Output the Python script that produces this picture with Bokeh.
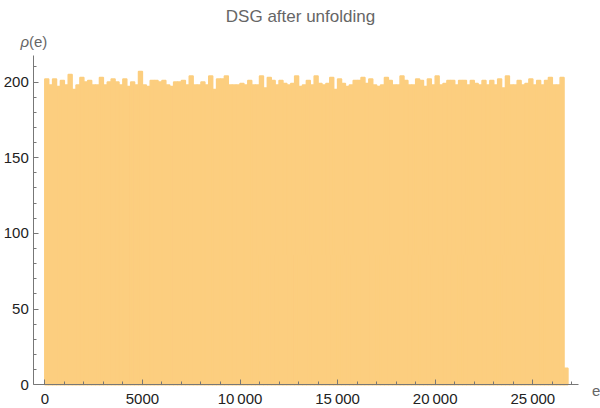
from bokeh.plotting import figure
from bokeh.models import FixedTicker, Label, Range1d
from bokeh.embed import file_html
from bokeh.resources import INLINE

# ---------------- data ----------------
title_text = "DSG after unfolding"
x_label_text = "e"
y_label_symbol = "ρ"
y_label_rest = "(e)"

bin_start = 0
bin_width = 200
counts = [
    202, 198, 202, 197, 201, 198, 205, 195, 198, 203,
    200, 201, 198, 198, 203, 198, 200, 202, 200, 198,
    202, 197, 200, 198, 207, 198, 197, 201, 201, 200,
    201, 198, 197, 200, 200, 201, 198, 204, 198, 198,
    200, 198, 204, 195, 202, 202, 204, 198, 198, 198,
    199, 198, 201, 198, 198, 204, 196, 203, 201, 198,
    201, 199, 198, 199, 204, 197, 198, 201, 198, 204,
    199, 198, 199, 203, 195, 202, 199, 197, 198, 201,
    201, 203, 199, 202, 198, 197, 198, 203, 201, 198,
    198, 204, 201, 198, 198, 202, 201, 197, 202, 198,
    204, 198, 199, 201, 201, 198, 201, 201, 198, 201,
    199, 198, 201, 198, 201, 198, 202, 196, 204, 198,
    198, 201, 198, 199, 202, 198, 201, 198, 201, 203,
    198, 198, 203, 11,
]

x_major_ticks = [0, 5000, 10000, 15000, 20000, 25000]
x_tick_labels = ["0", "5000", "10\u2009000", "15\u2009000", "20\u2009000", "25\u2009000"]
x_minor_ticks = list(range(1000, 28000, 1000))
y_major_ticks = [0, 50, 100, 150, 200]
y_tick_labels = ["0", "50", "100", "150", "200"]
y_minor_ticks = list(range(10, 220, 10))

# axis extents (data units)
x_axis_bounds = (-563.5, 27326.0)
y_axis_bounds = (0.0, 217.5)

# ---------------- layout ----------------
W, H = 600, 408
# pixel mapping of the plotting area (frame covers the whole canvas)
x0_px, x_px_per_unit = 44.3, 0.01952
y0_px, y_px_per_unit = 384.3, 1.514
x_start = -x0_px / x_px_per_unit
x_end = (W - x0_px) / x_px_per_unit
y_start = -(H - y0_px) / y_px_per_unit
y_end = y0_px / y_px_per_unit

bar_color = "#fcce7f"
axis_color = "#777777"
label_gray = "#666666"
tick_color = "#222222"
font = "Liberation Sans"

lefts = [bin_start + i * bin_width for i in range(len(counts))]
rights = [l + bin_width for l in lefts]

p = figure(width=W, height=H, output_backend="svg", toolbar_location=None,
           title=None,
           x_range=Range1d(x_start, x_end), y_range=Range1d(y_start, y_end),
           min_border_left=0, min_border_right=0,
           min_border_top=0, min_border_bottom=0)
p.outline_line_color = None
p.grid.visible = False
p.background_fill_color = "white"
p.border_fill_color = "white"

p.quad(left=lefts, right=rights, bottom=0, top=counts,
       fill_color=bar_color, line_color=bar_color, line_width=1.5)

p.xaxis.ticker = FixedTicker(ticks=x_major_ticks, minor_ticks=x_minor_ticks)
p.xaxis.major_label_overrides = dict(zip(x_major_ticks, x_tick_labels))
p.yaxis.ticker = FixedTicker(ticks=y_major_ticks, minor_ticks=y_minor_ticks)
p.yaxis.major_label_overrides = dict(zip(y_major_ticks, y_tick_labels))
p.xaxis.fixed_location = y_axis_bounds[0]
p.yaxis.fixed_location = x_axis_bounds[0]
p.xaxis.bounds = x_axis_bounds
p.yaxis.bounds = y_axis_bounds

for ax in (p.xaxis[0], p.yaxis[0]):
    ax.axis_line_color = axis_color
    ax.major_tick_line_color = axis_color
    ax.minor_tick_line_color = axis_color
    ax.major_tick_in = 5
    ax.major_tick_out = 0
    ax.minor_tick_in = 3
    ax.minor_tick_out = 0
    ax.major_label_text_font = font
    ax.major_label_text_font_size = "15px"
    ax.major_label_text_color = tick_color
p.xaxis.major_label_standoff = 5
p.yaxis.major_label_standoff = 5


def dx(px):
    return (px - x0_px) / x_px_per_unit


def dy(py):
    return (y0_px - py) / y_px_per_unit


p.add_layout(Label(x=dx(300), y=dy(16), text=title_text, text_align="center",
                   text_baseline="alphabetic", text_font=font,
                   text_font_size="17px", text_color=label_gray))
p.add_layout(Label(x=dx(28.5), y=dy(41), text=y_label_symbol, text_align="right",
                   text_baseline="alphabetic", text_font=font, text_font_style="italic",
                   text_font_size="15px", text_color=label_gray))
p.add_layout(Label(x=dx(28.5), y=dy(41), text=y_label_rest, text_align="left",
                   text_baseline="alphabetic", text_font=font,
                   text_font_size="15px", text_color=label_gray))
p.add_layout(Label(x=dx(591.5), y=dy(390), text=x_label_text, text_align="left",
                   text_baseline="alphabetic", text_font=font,
                   text_font_size="15px", text_color=label_gray))

open("out.html", "w").write(file_html(p, INLINE))
